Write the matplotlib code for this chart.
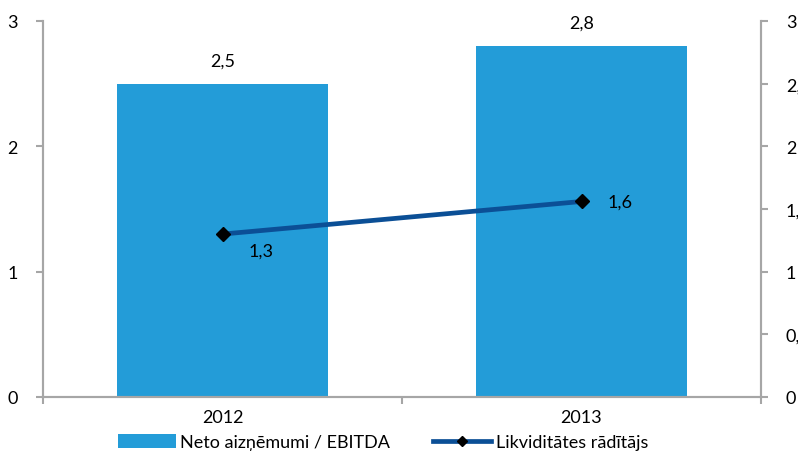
import matplotlib
matplotlib.use("Agg")
import matplotlib.pyplot as plt
from matplotlib.ticker import FuncFormatter, FixedLocator

years = ["2012", "2013"]
net_debt_ebitda = [2.5, 2.8]
liquidity = [1.3, 1.56]
bar_name = "Neto aizņēmumi / EBITDA"
line_name = "Likviditātes rādītājs"
left_ticks = [0, 1, 2, 3]
right_ticks = [0, 0.5, 1, 1.5, 2, 2.5, 3]

plt.rcParams['font.family'] = ['Lato', 'DejaVu Sans']
FS = 13
bar_color = '#239CD8'
line_color = '#0B4F96'
spine_color = '#A6A6A6'

fig = plt.figure(figsize=(7.98, 4.56), dpi=100)
ax = fig.add_axes([43/798, 58/456, (761-43)/798, (398-22)/456])
ax2 = ax.twinx()

x = list(range(len(years)))
bars = ax.bar(x, net_debt_ebitda, width=0.588, color=bar_color, label=bar_name, zorder=2)
ax.set_xlim(-0.5, len(years) - 0.5)
ax.set_ylim(0, 3)
ax.set_yticks(left_ticks)
ax.yaxis.set_major_formatter(FuncFormatter(lambda v, p: f"{v:g}".replace('.', ',')))
ax.set_xticks(x)
ax.set_xticklabels(years, fontsize=FS)
ax.xaxis.set_minor_locator(FixedLocator([-0.5, 0.5, 1.5]))
ax.tick_params(axis='x', which='major', length=0, pad=9)
ax.tick_params(axis='x', which='minor', length=5, color=spine_color, width=1.5)
ax.tick_params(axis='y', length=5, color=spine_color, width=1.5, labelsize=FS, pad=13)

for b, v in zip(bars, net_debt_ebitda):
    ax.annotate(f"{v:.1f}".replace('.', ','), (b.get_x() + b.get_width()/2, v),
                xytext=(0, 11), textcoords='offset points', ha='center', va='bottom', fontsize=FS)

ln, = ax2.plot(x, liquidity, color=line_color, lw=3.4, marker='D', markersize=7,
               markerfacecolor='black', markeredgecolor='black', label=line_name, zorder=3)
ax2.set_ylim(0, 3)
ax2.set_yticks(right_ticks)
ax2.yaxis.set_major_formatter(FuncFormatter(lambda v, p: f"{v:g}".replace('.', ',')))
ax2.tick_params(axis='y', length=5, color=spine_color, width=1.5, labelsize=FS, pad=13)

ax2.annotate(f"{liquidity[0]:.1f}".replace('.', ','), (x[0], liquidity[0]), xytext=(28, -12),
             textcoords='offset points', ha='center', va='center', fontsize=FS)
ax2.annotate(f"{liquidity[1]:.1f}".replace('.', ','), (x[1], liquidity[1]), xytext=(28, 0),
             textcoords='offset points', ha='center', va='center', fontsize=FS)

for a in (ax, ax2):
    a.spines['top'].set_visible(False)
    for s in ('left', 'right', 'bottom'):
        a.spines[s].set_color(spine_color)
        a.spines[s].set_linewidth(1.5)

fig.legend([bars, ln], [bar_name, line_name], ncol=2, loc='lower center',
           bbox_to_anchor=(383/798, -0.025), frameon=False, fontsize=FS,
           handlelength=3.2, handletextpad=0.25, columnspacing=2.4, handleheight=0.8,
           markerscale=0.75)

fig.savefig("out.png", dpi=100)
